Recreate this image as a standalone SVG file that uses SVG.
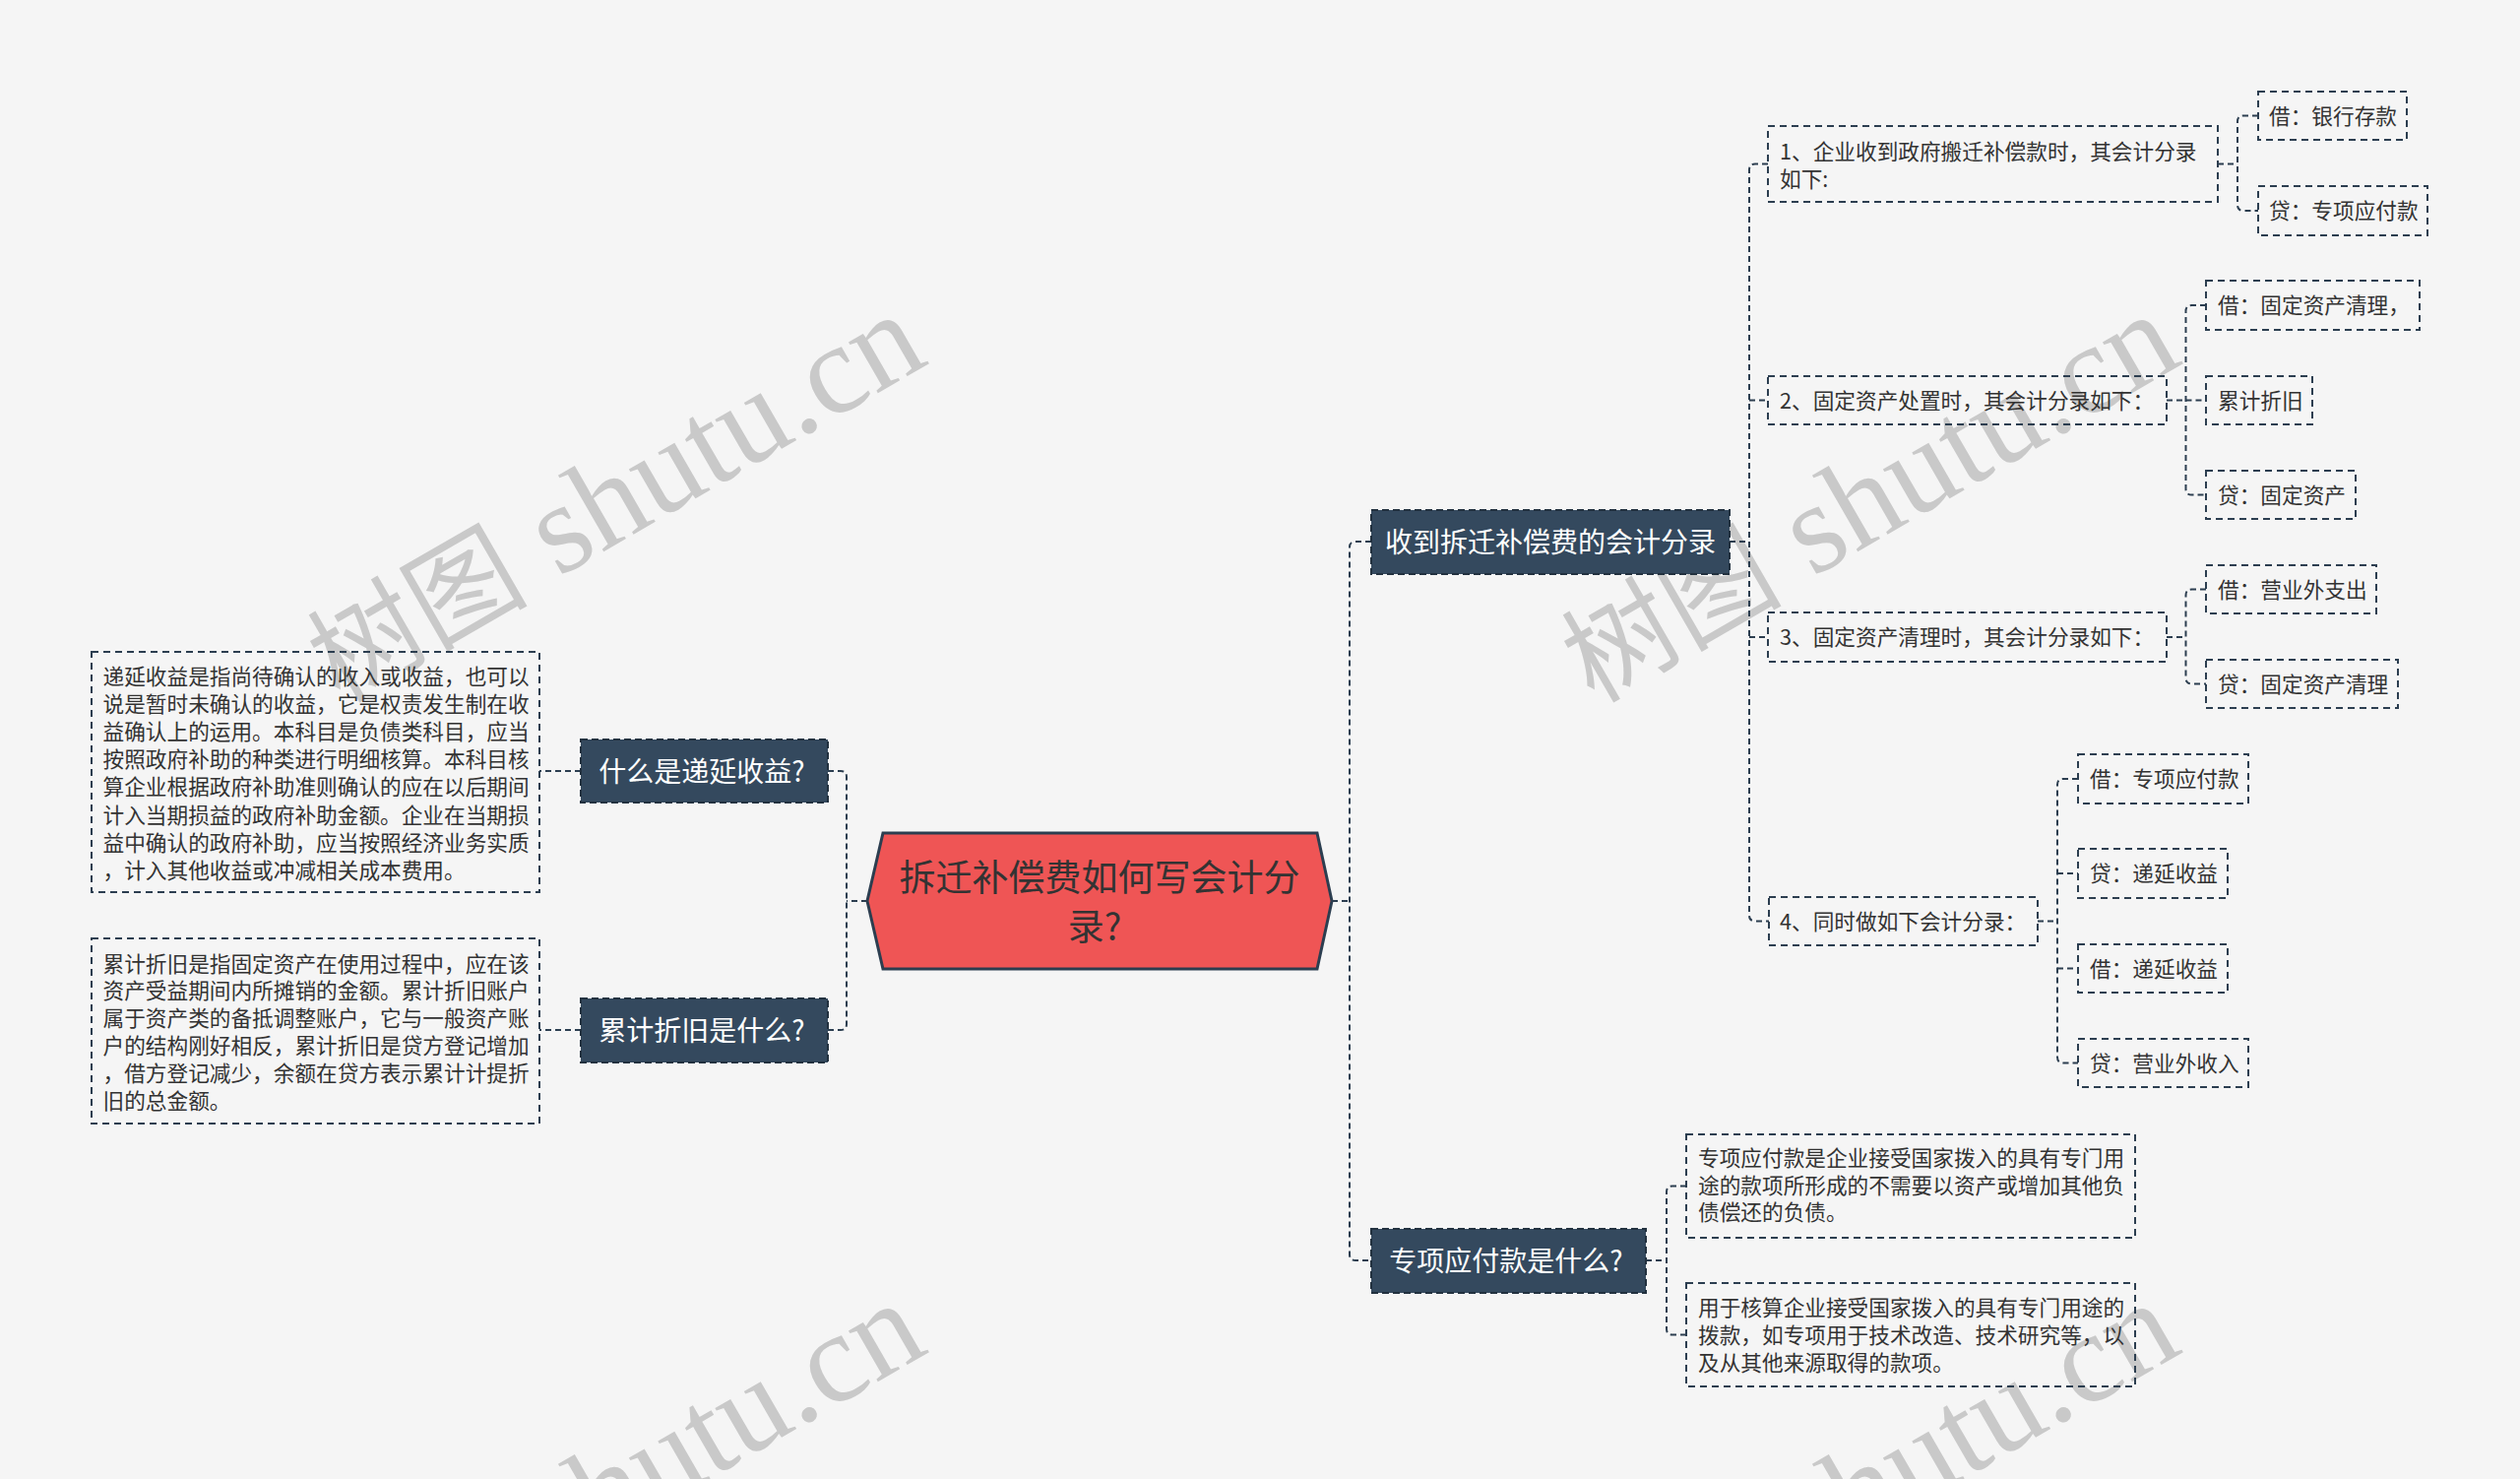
<svg xmlns="http://www.w3.org/2000/svg" width="2560" height="1502" viewBox="0 0 2560 1502">
<style>
.bg{fill:#f5f5f5}
.wm{font-family:"Liberation Serif","Noto Sans CJK SC",serif;font-size:130px;fill:#c9c9c9}
.wm .cj{font-size:112px}
.conn path{fill:none;stroke:#2c3e50;stroke-width:2;stroke-dasharray:6 4}
.root{fill:#ef5555;stroke:#2c3e50;stroke-width:3}
.rootT{font-family:"Noto Sans CJK SC","Noto Sans",sans-serif;font-size:37px;fill:#333;text-anchor:middle}
.br{fill:#34495e;stroke:#22313f;stroke-width:2;stroke-dasharray:7 4}
.brT{font-family:"Noto Sans CJK SC","Noto Sans",sans-serif;font-size:28px;fill:#fff;text-anchor:middle}
.lf{fill:none;stroke:#2c3e50;stroke-width:2;stroke-dasharray:7 5}
.lfT{font-family:"Noto Sans CJK SC","Noto Sans",sans-serif;font-size:21.67px;fill:#333}
</style>
<rect class="bg" x="0" y="0" width="2560" height="1502"/>
<g id="watermarks">
<text class="wm" transform="translate(345,715) rotate(-30)"><tspan class="cj">树图</tspan> shutu.cn</text>
<text class="wm" transform="translate(1619,715) rotate(-30)"><tspan class="cj">树图</tspan> shutu.cn</text>
<text class="wm" transform="translate(345,1719) rotate(-30)"><tspan class="cj">树图</tspan> shutu.cn</text>
<text class="wm" transform="translate(1619,1719) rotate(-30)"><tspan class="cj">树图</tspan> shutu.cn</text>
</g>
<g id="connectors" class="conn">
<path d="M1353,915 H1371"/>
<path d="M1393,550 H1377 Q1371,550 1371,556 V1274 Q1371,1280 1377,1280 H1393"/>
<path d="M881,915 H860"/>
<path d="M841,783 H854 Q860,783 860,789 V1040 Q860,1046 854,1046 H841"/>
<path d="M590,783 H548"/>
<path d="M590,1046 H548"/>
<path d="M1757,550 H1777"/>
<path d="M1796,166.5 H1783 Q1777,166.5 1777,172.5 V929.5 Q1777,935.5 1783,935.5 H1797"/>
<path d="M1777,406.5 H1796"/>
<path d="M1777,647 H1796"/>
<path d="M2253,166.5 H2273"/>
<path d="M2294,117.5 H2279 Q2273,117.5 2273,123.5 V208 Q2273,214 2279,214 H2294"/>
<path d="M2201,406.5 H2220.5"/>
<path d="M2241,310 H2226.5 Q2220.5,310 2220.5,316 V496.5 Q2220.5,502.5 2226.5,502.5 H2241"/>
<path d="M2220.5,406.5 H2241"/>
<path d="M2201,647 H2220.5"/>
<path d="M2241,598.5 H2226.5 Q2220.5,598.5 2220.5,604.5 V688.5 Q2220.5,694.5 2226.5,694.5 H2241"/>
<path d="M2070,935.5 H2090"/>
<path d="M2111,791 H2096 Q2090,791 2090,797 V1073.5 Q2090,1079.5 2096,1079.5 H2111"/>
<path d="M2090,887 H2111"/>
<path d="M2090,983.5 H2111"/>
<path d="M1672,1280 H1693"/>
<path d="M1713,1204.5 H1699 Q1693,1204.5 1693,1210.5 V1349.5 Q1693,1355.5 1699,1355.5 H1713"/>
</g>
<g id="root">
<polygon class="root" points="897,846 1338,846 1353,915 1338,984 897,984 881,915"/>
<text class="rootT" x="1117" y="905">拆迁补偿费如何写会计分</text>
<text class="rootT" x="1112" y="955">录?</text>
</g>
<g id="b-deferred">
<rect class="br" x="590" y="751" width="251" height="64"/>
<text class="brT" x="713" y="794">什么是递延收益?</text>
</g>
<g id="b-depr">
<rect class="br" x="590" y="1014" width="251" height="65"/>
<text class="brT" x="713" y="1057">累计折旧是什么?</text>
</g>
<g id="d-deferred">
<rect class="lf" x="93" y="662" width="455" height="244"/>
<text class="lfT" x="104.5" y="695">递延收益是指尚待确认的收入或收益，也可以</text>
<text class="lfT" x="104.5" y="723.1">说是暂时未确认的收益，它是权责发生制在收</text>
<text class="lfT" x="104.5" y="751.2">益确认上的运用。本科目是负债类科目，应当</text>
<text class="lfT" x="104.5" y="779.3">按照政府补助的种类进行明细核算。本科目核</text>
<text class="lfT" x="104.5" y="807.4">算企业根据政府补助准则确认的应在以后期间</text>
<text class="lfT" x="104.5" y="835.5">计入当期损益的政府补助金额。企业在当期损</text>
<text class="lfT" x="104.5" y="863.6">益中确认的政府补助，应当按照经济业务实质</text>
<text class="lfT" x="104.5" y="891.7">，计入其他收益或冲减相关成本费用。</text>
</g>
<g id="d-depr">
<rect class="lf" x="93" y="953" width="455" height="188"/>
<text class="lfT" x="104.5" y="986.5">累计折旧是指固定资产在使用过程中，应在该</text>
<text class="lfT" x="104.5" y="1014.3">资产受益期间内所摊销的金额。累计折旧账户</text>
<text class="lfT" x="104.5" y="1042.1">属于资产类的备抵调整账户，它与一般资产账</text>
<text class="lfT" x="104.5" y="1069.9">户的结构刚好相反，累计折旧是贷方登记增加</text>
<text class="lfT" x="104.5" y="1097.7">，借方登记减少，余额在贷方表示累计计提折</text>
<text class="lfT" x="104.5" y="1125.5">旧的总金额。</text>
</g>
<g id="b-entries">
<rect class="br" x="1393" y="518" width="364" height="65"/>
<text class="brT" x="1575" y="561">收到拆迁补偿费的会计分录</text>
</g>
<g id="n1">
<rect class="lf" x="1796" y="128" width="457" height="77"/>
<text class="lfT" x="1808" y="162">1、企业收到政府搬迁补偿款时，其会计分录</text>
<text class="lfT" x="1808" y="189.5">如下:</text>
</g>
<g id="n1a">
<rect class="lf" x="2294" y="93" width="151" height="49"/>
<text class="lfT" x="2305" y="125.7">借：银行存款</text>
</g>
<g id="n1b">
<rect class="lf" x="2294" y="189" width="172" height="50"/>
<text class="lfT" x="2305" y="222.2">贷：专项应付款</text>
</g>
<g id="n2">
<rect class="lf" x="1796" y="382" width="405" height="49"/>
<text class="lfT" x="1808" y="414.7">2、固定资产处置时，其会计分录如下：</text>
</g>
<g id="n2a">
<rect class="lf" x="2241" y="285" width="217" height="50"/>
<text class="lfT" x="2253" y="318.2">借：固定资产清理，</text>
</g>
<g id="n2b">
<rect class="lf" x="2241" y="382" width="108" height="49"/>
<text class="lfT" x="2253" y="414.7">累计折旧</text>
</g>
<g id="n2c">
<rect class="lf" x="2241" y="478" width="152" height="49"/>
<text class="lfT" x="2253" y="510.7">贷：固定资产</text>
</g>
<g id="n3">
<rect class="lf" x="1796" y="622" width="405" height="50"/>
<text class="lfT" x="1808" y="655.2">3、固定资产清理时，其会计分录如下：</text>
</g>
<g id="n3a">
<rect class="lf" x="2241" y="574" width="173" height="49"/>
<text class="lfT" x="2253" y="606.7">借：营业外支出</text>
</g>
<g id="n3b">
<rect class="lf" x="2241" y="670" width="195" height="49"/>
<text class="lfT" x="2253" y="702.7">贷：固定资产清理</text>
</g>
<g id="n4">
<rect class="lf" x="1797" y="911" width="273" height="49"/>
<text class="lfT" x="1808" y="943.7">4、同时做如下会计分录：</text>
</g>
<g id="n4a">
<rect class="lf" x="2111" y="766" width="173" height="50"/>
<text class="lfT" x="2123" y="799.2">借：专项应付款</text>
</g>
<g id="n4b">
<rect class="lf" x="2111" y="862" width="152" height="50"/>
<text class="lfT" x="2123" y="895.2">贷：递延收益</text>
</g>
<g id="n4c">
<rect class="lf" x="2111" y="959" width="152" height="49"/>
<text class="lfT" x="2123" y="991.7">借：递延收益</text>
</g>
<g id="n4d">
<rect class="lf" x="2111" y="1055" width="173" height="49"/>
<text class="lfT" x="2123" y="1087.7">贷：营业外收入</text>
</g>
<g id="b-special">
<rect class="br" x="1393" y="1248" width="279" height="65"/>
<text class="brT" x="1530" y="1291">专项应付款是什么?</text>
</g>
<g id="d-specialA">
<rect class="lf" x="1713" y="1152" width="456" height="105"/>
<text class="lfT" x="1725" y="1184.2">专项应付款是企业接受国家拨入的具有专门用</text>
<text class="lfT" x="1725" y="1211.7">途的款项所形成的不需要以资产或增加其他负</text>
<text class="lfT" x="1725" y="1239.2">债偿还的负债。</text>
</g>
<g id="d-specialB">
<rect class="lf" x="1713" y="1303" width="456" height="105"/>
<text class="lfT" x="1725" y="1336.2">用于核算企业接受国家拨入的具有专门用途的</text>
<text class="lfT" x="1725" y="1364">拨款，如专项用于技术改造、技术研究等，以</text>
<text class="lfT" x="1725" y="1391.5">及从其他来源取得的款项。</text>
</g>
</svg>
